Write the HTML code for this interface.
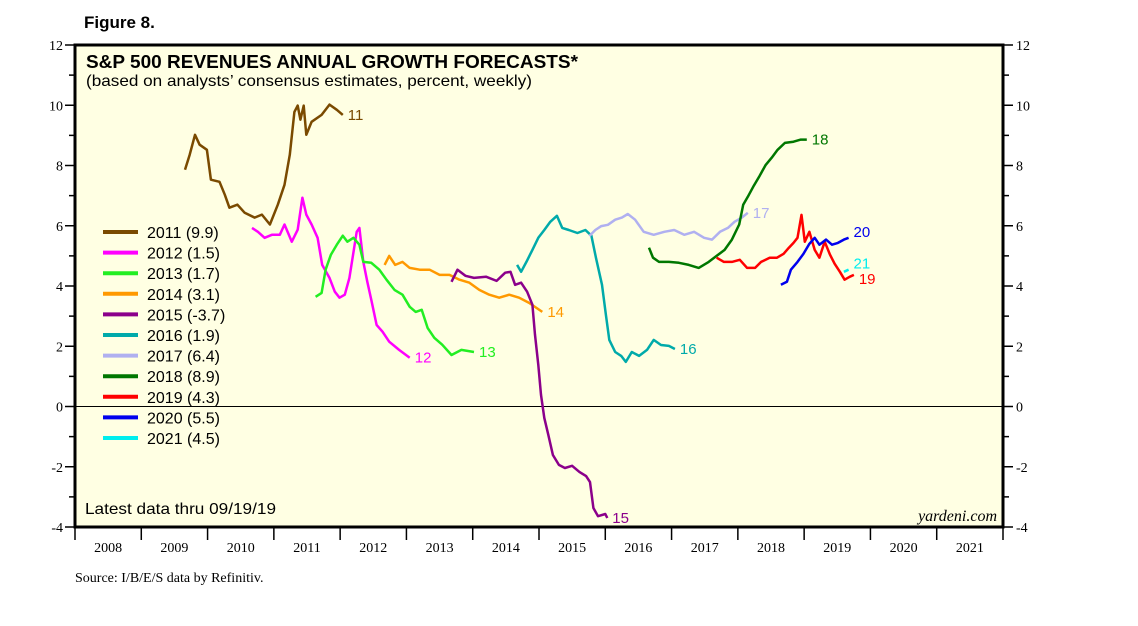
<!DOCTYPE html>
<html><head><meta charset="utf-8"><style>
body{margin:0;background:#fff;}
svg text{font-family:"Liberation Sans",sans-serif;}
.serif{font-family:"Liberation Serif",serif !important;}
</style></head><body>
<svg id="chart" width="1138" height="621" xmlns="http://www.w3.org/2000/svg">
<text x="84" y="28" font-size="17" font-weight="bold">Figure 8.</text>
<rect x="75" y="45" width="928" height="482" fill="#ffffe3"/>
<g id="axes"></g>
<g id="series"></g>
<rect x="75" y="45" width="928" height="482" fill="none" stroke="#000" stroke-width="3"/>
<text x="86" y="68" font-size="18" font-weight="bold" textLength="492" lengthAdjust="spacingAndGlyphs">S&amp;P 500 REVENUES ANNUAL GROWTH FORECASTS*</text>
<text x="86" y="86" font-size="16" textLength="446" lengthAdjust="spacingAndGlyphs">(based on analysts’ consensus estimates, percent, weekly)</text>
<text x="85" y="514" font-size="16" textLength="191" lengthAdjust="spacingAndGlyphs">Latest data thru 09/19/19</text>
<text class="serif" x="997" y="521" font-size="16" font-style="italic" text-anchor="end">yardeni.com</text>
<text class="serif" x="75" y="582" font-size="14">Source: I/B/E/S data by Refinitiv.</text>
<g id="legend"></g>
</svg>
<script>
const yTicks=[-4,-2,0,2,4,6,8,10,12];
const years=[2008,2009,2010,2011,2012,2013,2014,2015,2016,2017,2018,2019,2020,2021];
const seriesNames=["2011 (9.9)","2012 (1.5)","2013 (1.7)","2014 (3.1)","2015 (-3.7)","2016 (1.9)","2017 (6.4)","2018 (8.9)","2019 (4.3)","2020 (5.5)","2021 (4.5)"];
const endLabels=["11","12","13","14","15","16","17","18","19","20","21"];
const colors=["#7a4a00","#ff00ff","#22ee22","#ff9900","#8b008b","#00aaaa","#b0b0f0","#007700","#ff0000","#0000ee","#00eeee"];
const s2011=[[2009.66,7.86],[2009.73,8.36],[2009.81,9.02],[2009.88,8.69],[2009.99,8.52],[2010.05,7.53],[2010.18,7.46],[2010.26,7.03],[2010.33,6.6],[2010.45,6.7],[2010.56,6.43],[2010.71,6.27],[2010.82,6.37],[2010.94,6.04],[2011.06,6.7],[2011.16,7.36],[2011.24,8.36],[2011.31,9.78],[2011.36,9.99],[2011.40,9.52],[2011.45,9.99],[2011.49,9.02],[2011.57,9.45],[2011.72,9.68],[2011.84,10.02],[2011.95,9.85],[2012.04,9.68]];
const s2012=[[2010.67,5.93],[2010.76,5.8],[2010.86,5.6],[2010.97,5.7],[2011.09,5.7],[2011.16,6.04],[2011.27,5.47],[2011.36,5.87],[2011.43,6.93],[2011.49,6.37],[2011.57,6.04],[2011.66,5.6],[2011.73,4.7],[2011.84,4.27],[2011.92,3.81],[2011.99,3.61],[2012.07,3.71],[2012.14,4.27],[2012.25,5.8],[2012.29,5.93],[2012.35,4.8],[2012.41,4.14],[2012.47,3.54],[2012.55,2.71],[2012.64,2.48],[2012.74,2.15],[2012.89,1.88],[2013.05,1.62]];
const s2013=[[2011.63,3.64],[2011.72,3.77],[2011.78,4.54],[2011.86,5.04],[2011.95,5.37],[2012.04,5.67],[2012.11,5.47],[2012.20,5.6],[2012.29,5.37],[2012.35,4.8],[2012.47,4.77],[2012.59,4.54],[2012.70,4.21],[2012.82,3.87],[2012.94,3.71],[2013.05,3.31],[2013.14,3.14],[2013.23,3.21],[2013.32,2.61],[2013.42,2.28],[2013.54,2.05],[2013.68,1.71],[2013.83,1.88],[2014.02,1.81]];
const s2014=[[2012.67,4.7],[2012.74,5.0],[2012.83,4.7],[2012.94,4.8],[2013.05,4.6],[2013.20,4.54],[2013.35,4.54],[2013.50,4.37],[2013.65,4.37],[2013.80,4.21],[2013.95,4.11],[2014.10,3.87],[2014.25,3.71],[2014.40,3.61],[2014.55,3.71],[2014.70,3.61],[2014.85,3.44],[2015.05,3.14]];
const s2015=[[2013.68,4.14],[2013.77,4.54],[2013.89,4.34],[2014.02,4.27],[2014.20,4.31],[2014.36,4.17],[2014.49,4.44],[2014.57,4.47],[2014.64,4.04],[2014.73,4.11],[2014.82,3.81],[2014.90,3.38],[2014.94,2.38],[2014.99,1.38],[2015.03,0.39],[2015.08,-0.38],[2015.14,-0.94],[2015.21,-1.61],[2015.30,-1.94],[2015.39,-2.04],[2015.50,-1.97],[2015.61,-2.17],[2015.71,-2.31],[2015.77,-2.51],[2015.82,-3.37],[2015.89,-3.64],[2016.00,-3.57],[2016.03,-3.7]];
const s2016=[[2014.67,4.7],[2014.73,4.47],[2014.81,4.8],[2014.90,5.2],[2014.99,5.6],[2015.08,5.86],[2015.17,6.13],[2015.27,6.33],[2015.35,5.93],[2015.45,5.86],[2015.58,5.76],[2015.70,5.86],[2015.79,5.67],[2015.86,4.93],[2015.95,4.04],[2016.01,3.04],[2016.06,2.21],[2016.15,1.81],[2016.24,1.68],[2016.31,1.48],[2016.40,1.81],[2016.51,1.68],[2016.63,1.88],[2016.73,2.21],[2016.84,2.04],[2016.96,2.01],[2017.05,1.91]];
const s2017=[[2015.76,5.66],[2015.85,5.86],[2015.94,5.99],[2016.04,6.03],[2016.15,6.2],[2016.25,6.27],[2016.34,6.39],[2016.45,6.2],[2016.58,5.8],[2016.73,5.7],[2016.89,5.8],[2017.04,5.86],[2017.19,5.7],[2017.34,5.8],[2017.49,5.6],[2017.61,5.54],[2017.73,5.8],[2017.85,5.93],[2017.95,6.13],[2018.06,6.27],[2018.15,6.43]];
const s2018=[[2016.66,5.27],[2016.72,4.94],[2016.81,4.8],[2016.96,4.8],[2017.11,4.77],[2017.26,4.7],[2017.41,4.6],[2017.56,4.8],[2017.68,5.0],[2017.80,5.2],[2017.91,5.54],[2018.02,6.04],[2018.08,6.7],[2018.15,6.96],[2018.24,7.33],[2018.33,7.66],[2018.42,8.02],[2018.51,8.26],[2018.60,8.52],[2018.71,8.75],[2018.84,8.79],[2018.95,8.86],[2019.04,8.86]];
const s2019=[[2017.68,4.94],[2017.79,4.8],[2017.91,4.8],[2018.03,4.87],[2018.14,4.6],[2018.26,4.6],[2018.35,4.8],[2018.48,4.94],[2018.59,4.94],[2018.69,5.07],[2018.77,5.27],[2018.84,5.43],[2018.90,5.6],[2018.96,6.36],[2019.01,5.47],[2019.08,5.8],[2019.16,5.2],[2019.23,4.94],[2019.31,5.47],[2019.39,5.04],[2019.46,4.74],[2019.54,4.47],[2019.61,4.21],[2019.69,4.31],[2019.75,4.37]];
const s2020=[[2018.65,4.04],[2018.74,4.14],[2018.80,4.54],[2018.90,4.8],[2018.99,5.07],[2019.08,5.4],[2019.16,5.6],[2019.23,5.37],[2019.33,5.54],[2019.42,5.37],[2019.51,5.43],[2019.60,5.54],[2019.67,5.6]];
const s2021=[[2019.60,4.47],[2019.67,4.54]];
const allSeries=[s2011,s2012,s2013,s2014,s2015,s2016,s2017,s2018,s2019,s2020,s2021];

const NS="http://www.w3.org/2000/svg";
const X0=75,X1=1003,Y0=45,Y1=527;
const xS=v=>X0+(v-2008)/14*(X1-X0);
const yS=v=>Y1-(v+4)/16*(Y1-Y0);
function mk(tag,attrs,parent,txt){const e=document.createElementNS(NS,tag);for(const k in attrs)e.setAttribute(k,attrs[k]);if(txt!==undefined)e.textContent=txt;parent.appendChild(e);return e;}
const axes=document.getElementById('axes');
for(let v=-4;v<=12;v++){
  const y=yS(v);const major=v%2===0;const len=major?10:6;
  const t1=mk('line',{x1:X0-len,x2:X0,y1:y,y2:y,stroke:'#000','stroke-width':1.5},axes);
  
  
  const t2=mk('line',{x1:X1,x2:X1+len,y1:y,y2:y,stroke:'#000','stroke-width':1.5},axes);
  
  
}
yTicks.forEach(v=>{
  const y=yS(v);
  const l=mk('text',{x:X0-12,y:y+5,'font-size':14,'text-anchor':'end',class:'serif'},axes,String(v));
  
  
  const r=mk('text',{x:X1+13,y:y+5,'font-size':14,class:'serif'},axes,String(v));
  
  
});
const z=mk('line',{x1:X0,x2:X1,y1:yS(0),y2:yS(0),stroke:'#000','stroke-width':1},axes);


for(let i=0;i<=years.length;i++){
  const x=xS(2008+i);
  const t=mk('line',{x1:x,x2:x,y1:Y1,y2:Y1+13,stroke:'#000','stroke-width':1.5},axes);
  
  
}
years.forEach(yr=>{
  const l=mk('text',{x:xS(yr+0.5),y:Y1+25,'font-size':14,'text-anchor':'middle',class:'serif'},axes,String(yr));
  
  
});
const sg=document.getElementById('series');
allSeries.forEach((s,i)=>{
  const p=mk('polyline',{points:s.map(d=>xS(d[0]).toFixed(1)+','+yS(d[1]).toFixed(1)).join(' '),fill:'none',stroke:colors[i],'stroke-width':2.5,'stroke-linejoin':'round'},sg);
  
  
  const last=s[s.length-1];
  const dy=(i===9||i===10)?-1:5;
  const t=mk('text',{x:xS(last[0])+5,y:yS(last[1])+dy+(i===8?4:0),'font-size':15,fill:colors[i]},sg,endLabels[i]);
  
  
});
const lg=document.getElementById('legend');
seriesNames.forEach((n,i)=>{
  const y=232+i*20.6;
  const l=mk('line',{x1:103,x2:138,y1:y,y2:y,stroke:colors[i],'stroke-width':4},lg);
  
  
  const t=mk('text',{x:147,y:y+6,'font-size':16},lg,n);
  
  
});
</script>
</body></html>
